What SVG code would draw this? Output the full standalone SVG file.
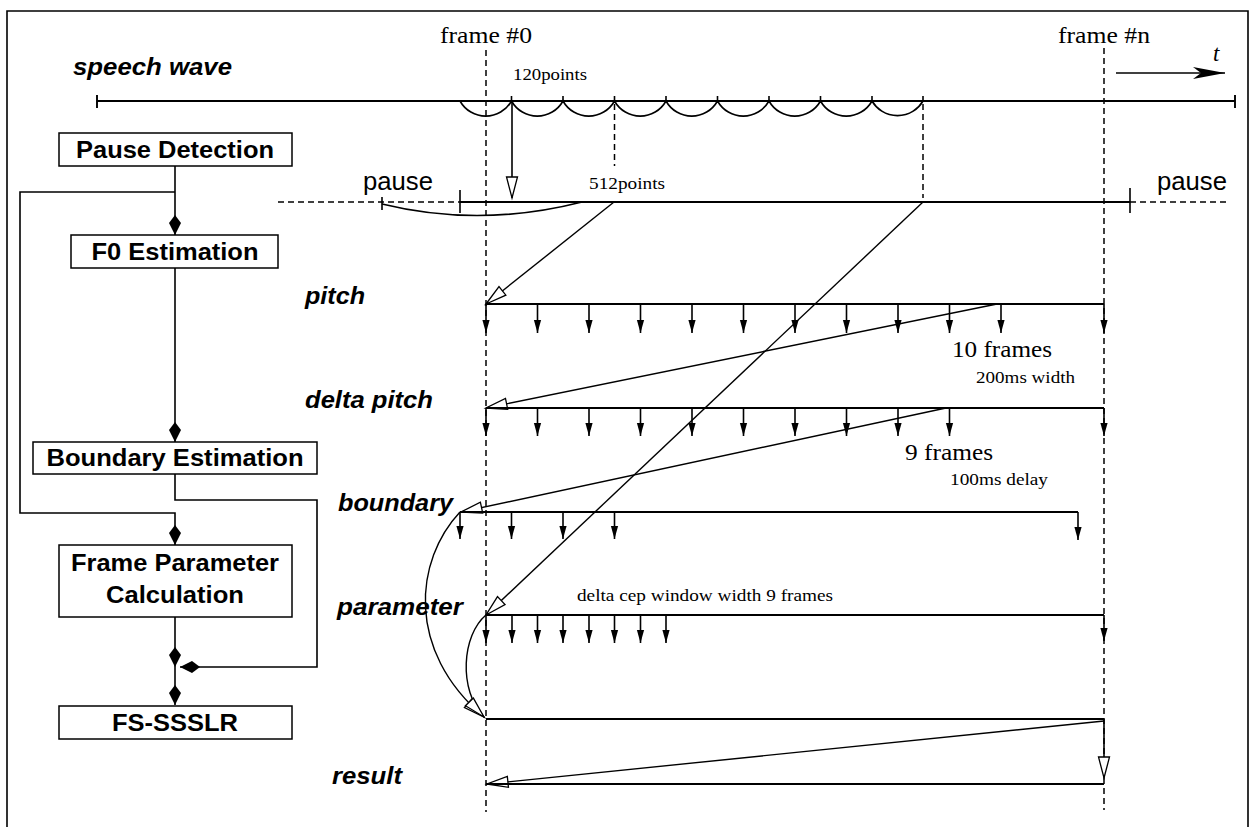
<svg xmlns="http://www.w3.org/2000/svg" width="1255" height="827" viewBox="0 0 1255 827">
<defs>
<style>
.ln{fill:none;stroke:#000;stroke-width:1.6}
.th{fill:none;stroke:#000;stroke-width:1.9}
.dg{fill:none;stroke:#000;stroke-width:1.4}
.ds{fill:none;stroke:#000;stroke-width:1.5;stroke-dasharray:6 4}
.box{fill:#fff;stroke:#000;stroke-width:1.5}
.bx{font-family:"Liberation Sans",Arial,sans-serif;font-weight:bold;font-size:23px;fill:#000;text-anchor:middle}
.lab{font-family:"Liberation Sans",Arial,sans-serif;font-weight:bold;font-style:italic;font-size:24px;fill:#000}
.ps{font-family:"Liberation Sans",Arial,sans-serif;font-size:25px;fill:#000}
.sf{font-family:"Liberation Serif","Times New Roman",serif;fill:#000}
</style>
<marker id="kite" markerUnits="userSpaceOnUse" viewBox="-21 -7 22 14" markerWidth="22" markerHeight="14" refX="0" refY="0" orient="auto" overflow="visible"><path d="M0,0 L-12,-6 L-20,0 L-12,6 Z" fill="#000"/></marker>
<marker id="open" markerUnits="userSpaceOnUse" viewBox="-22 -7 23 14" markerWidth="23" markerHeight="14" refX="0" refY="0" orient="auto" overflow="visible"><path d="M0,0 L-21,-5.5 L-21,5.5 Z" fill="#fff" stroke="#000" stroke-width="1.3" stroke-linejoin="miter"/></marker>
<marker id="sm" markerUnits="userSpaceOnUse" viewBox="-14 -4 15 8" markerWidth="15" markerHeight="8" refX="0" refY="0" orient="auto" overflow="visible"><path d="M0,0 L-13,-3.6 L-13,3.6 Z" fill="#000"/></marker>
<marker id="spear" markerUnits="userSpaceOnUse" viewBox="-33 -7 34 14" markerWidth="34" markerHeight="14" refX="0" refY="0" orient="auto" overflow="visible"><path d="M0,0 L-32,-6 L-24,0 L-32,6 Z" fill="#000"/></marker>
</defs>
<rect x="0" y="0" width="1255" height="827" fill="#fff"/>
<path d="M7 835 V11 H1248 V835" fill="none" stroke="#000" stroke-width="1.6"/>

<g id="n-pause-detection"><rect class="box" x="59" y="133" width="233" height="33"/><text class="bx" x="175" y="158" textLength="198" lengthAdjust="spacingAndGlyphs">Pause Detection</text></g>
<g id="n-f0-estimation"><rect class="box" x="71" y="235" width="207" height="33"/><text class="bx" x="175" y="260" textLength="167" lengthAdjust="spacingAndGlyphs">F0 Estimation</text></g>
<g id="n-boundary-estimation"><rect class="box" x="33" y="442" width="284" height="32"/><text class="bx" x="175" y="466" textLength="257" lengthAdjust="spacingAndGlyphs">Boundary Estimation</text></g>
<g id="n-frame-parameter"><rect class="box" x="59" y="545" width="233" height="72"/><text class="bx" x="175" y="571" textLength="208" lengthAdjust="spacingAndGlyphs">Frame Parameter</text><text class="bx" x="175" y="603" textLength="138" lengthAdjust="spacingAndGlyphs">Calculation</text></g>
<g id="n-fs-ssslr"><rect class="box" x="59" y="706" width="233" height="33"/><text class="bx" x="175" y="731" textLength="126" lengthAdjust="spacingAndGlyphs">FS-SSSLR</text></g>

<g id="labels">
<text class="lab" x="73" y="75" textLength="159" lengthAdjust="spacingAndGlyphs">speech wave</text>
<text class="lab" x="305" y="304" textLength="60" lengthAdjust="spacingAndGlyphs">pitch</text>
<text class="lab" x="305" y="408" textLength="128" lengthAdjust="spacingAndGlyphs">delta pitch</text>
<text class="lab" x="338" y="511" textLength="115" lengthAdjust="spacingAndGlyphs">boundary</text>
<text class="lab" x="337" y="615" textLength="126" lengthAdjust="spacingAndGlyphs">parameter</text>
<text class="lab" x="332" y="784" textLength="70" lengthAdjust="spacingAndGlyphs">result</text>
<text class="ps" x="363" y="190" textLength="70" lengthAdjust="spacingAndGlyphs">pause</text>
<text class="ps" x="1157" y="190" textLength="70" lengthAdjust="spacingAndGlyphs">pause</text>
<text class="sf" x="440" y="43" font-size="23" textLength="92" lengthAdjust="spacingAndGlyphs">frame #0</text>
<text class="sf" x="1058" y="43" font-size="23" textLength="92" lengthAdjust="spacingAndGlyphs">frame #n</text>
<text class="sf" x="1213" y="61" font-size="23" font-style="italic">t</text>
<text class="sf" x="513" y="80" font-size="17" textLength="74" lengthAdjust="spacingAndGlyphs">120points</text>
<text class="sf" x="589" y="189" font-size="17" textLength="76" lengthAdjust="spacingAndGlyphs">512points</text>
<text class="sf" x="952" y="357" font-size="23" textLength="100" lengthAdjust="spacingAndGlyphs">10 frames</text>
<text class="sf" x="976" y="383" font-size="17" textLength="99" lengthAdjust="spacingAndGlyphs">200ms width</text>
<text class="sf" x="905" y="460" font-size="23" textLength="88" lengthAdjust="spacingAndGlyphs">9 frames</text>
<text class="sf" x="950" y="485" font-size="17" textLength="98" lengthAdjust="spacingAndGlyphs">100ms delay</text>
<text class="sf" x="577" y="601" font-size="17" textLength="256" lengthAdjust="spacingAndGlyphs">delta cep window width 9 frames</text>
</g>

<g id="connectors">
<!-- flowchart -->
<path class="ln" d="M175 166 V235" marker-end="url(#kite)"/>
<path class="ln" d="M175 192 H20 V513 H175 V545" marker-end="url(#kite)"/>
<path class="ln" d="M175 268 V442" marker-end="url(#kite)"/>
<path class="ln" d="M175 474 V500 H317 V667 H180" marker-end="url(#kite)"/>
<path class="ln" d="M175 617 V667" marker-end="url(#kite)"/>
<path class="ln" d="M175 667 V705" marker-end="url(#kite)"/>

<!-- time axis -->
<path class="ln" d="M1116 73 H1225" marker-end="url(#spear)"/>
<path class="ds" d="M486 50 V812"/>
<path class="ds" d="M1104 48 V810"/>

<!-- speech wave -->
<path class="th" d="M97 101 H1235 M97 95 V108 M1235 95 V108"/>
<path class="ln" d="M460 101 A29.5 29.5 0 0 0 511.5 101 A29.5 29.5 0 0 0 563 101 A29.5 29.5 0 0 0 614.5 101 A29.5 29.5 0 0 0 666 101 A29.5 29.5 0 0 0 717.5 101 A29.5 29.5 0 0 0 769 101 A29.5 29.5 0 0 0 820.5 101 A29.5 29.5 0 0 0 872 101 A29.5 29.5 0 0 0 923 101"/>
<path class="ln" d="M511.5 96 V101 M563 96 V101 M614.5 96 V101 M666 96 V101 M717.5 96 V101 M769 96 V101 M820.5 96 V101 M872 96 V101 M923 96 V101"/>
<path class="ds" d="M614.5 104 V166"/>
<path class="ds" d="M923 104 V198"/>
<path class="ln" d="M512 101 V198" marker-end="url(#open)"/>

<!-- pause line -->
<path class="ds" d="M278 202 H460"/>
<path class="ds" d="M1130 202 H1230"/>
<path class="th" d="M460 202 H1130"/>
<path class="ln" d="M382 197 V210 M460 190 V213 M1130 188 V213"/>
<path class="ln" d="M382 204 Q480 228 582 202"/>

<!-- diagonals -->
<path class="dg" d="M614 202 L486 304" marker-end="url(#open)"/>
<path class="dg" d="M923 202 L486 615" marker-end="url(#open)"/>
<path class="dg" d="M997 304 L486 408" marker-end="url(#open)"/>
<path class="dg" d="M946 408 L461 512" marker-end="url(#open)"/>

<!-- pitch row -->
<path class="th" d="M486 304 H1104"/>
<g class="ln" marker-end="url(#sm)">
<path d="M486 304 V333"/><path d="M537.5 304 V333"/><path d="M589 304 V333"/><path d="M640.5 304 V333"/><path d="M692 304 V333"/><path d="M743.5 304 V333"/><path d="M795 304 V333"/><path d="M846.5 304 V333"/><path d="M898 304 V333"/><path d="M949.5 304 V333"/><path d="M1001 304 V333"/><path d="M1104 304 V333"/>
</g>

<!-- delta pitch row -->
<path class="th" d="M486 408 H1104"/>
<g class="ln" marker-end="url(#sm)">
<path d="M486 408 V436"/><path d="M537.5 408 V436"/><path d="M589 408 V436"/><path d="M640.5 408 V436"/><path d="M692 408 V436"/><path d="M743.5 408 V436"/><path d="M795 408 V436"/><path d="M846.5 408 V436"/><path d="M898 408 V436"/><path d="M949.5 408 V436"/><path d="M1104 408 V436"/>
</g>

<!-- boundary row -->
<path class="th" d="M460 512 H1078"/>
<g class="ln" marker-end="url(#sm)">
<path d="M460 512 V539"/><path d="M511.5 512 V539"/><path d="M563 512 V539"/><path d="M614.5 512 V539"/><path d="M1078 512 V540"/>
</g>

<!-- parameter row -->
<path class="th" d="M486 615 H1104"/>
<g class="ln" marker-end="url(#sm)">
<path d="M486 615 V643"/><path d="M512 615 V643"/><path d="M537.5 615 V643"/><path d="M563 615 V643"/><path d="M589 615 V643"/><path d="M614.5 615 V643"/><path d="M640.5 615 V643"/><path d="M666 615 V643"/><path d="M1104 615 V641"/>
</g>

<!-- arcs into recognition row -->
<path class="dg" d="M460 512 C415 560 405 650 484 717" marker-end="url(#open)"/>
<path class="dg" d="M486 615 C462 635 458 690 484 717" marker-end="url(#open)"/>

<!-- recognition / result -->
<path class="th" d="M486 719 H1104"/>
<path class="ln" d="M1104 719 V778" marker-end="url(#open)"/>
<path class="dg" d="M1104 721 L487 784" marker-end="url(#open)"/>
<path class="th" d="M486 784 H1104"/>
</g>
</svg>
